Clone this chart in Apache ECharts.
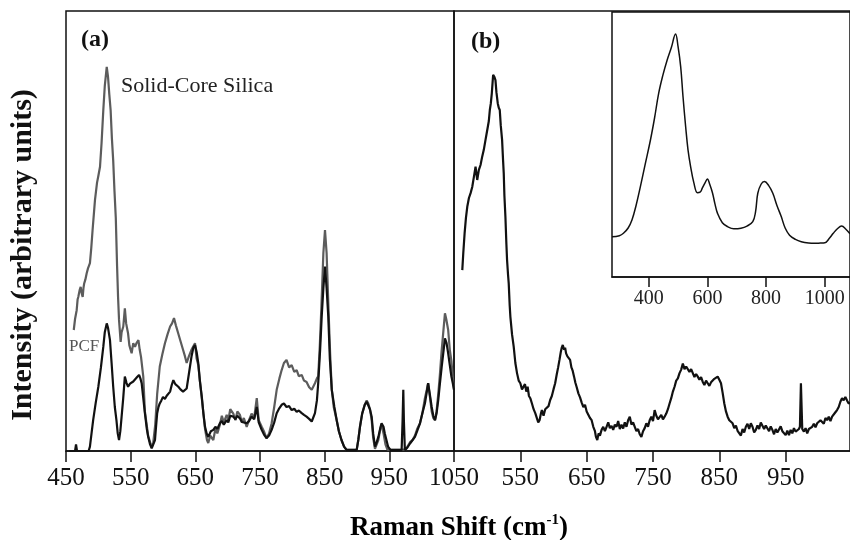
<!DOCTYPE html>
<html lang="en">
  <head>
    <meta charset="UTF-8" />
    <script src="https://cdn.jsdelivr.net/npm/echarts@6.0.0/dist/echarts.min.js"></script>
    <title>Raman spectra</title>
    <style>
      html, body { margin: 0; padding: 0; background: #fff; }
      #container { width: 850px; height: 540px; }
    </style>
  </head>
  <body>
    <div id="container"></div>

    <script>
      const chart = echarts.init(document.getElementById("container"));

      // panel (a): Raman shift (cm-1) vs intensity (arb. units 0-100)
      const solidCoreA = [
        [462,27.5],[464,30],[466.5,32],[468,34.5],[469,35],[471,36.5],[472.7,37.3],[474,36],[475.8,35],[477,37],
        [478,38],[480,39],[482,40.4],[484,41.5],[487,42.7],[489,46],[491,50],[494.8,57],[498,61],[500,62.5],
        [502.6,64.6],[505,70],[507.7,77.5],[510,83],[513,87.3],[515,85],[517,81],[519,77.5],[521,71],[523,66],
        [525,59],[527,53],[529,42],[530.5,35],[532,29.8],[534.5,24.8],[536,27],[538.6,28.3],[541,32.4],[543,29],
        [546,26.7],[548,24],[551.5,22.2],[554,24.5],[556.7,23.7],[559,24.5],[562,25.2],[564,23],[566,21.4],[569.5,16.9],
        [572,9],[577,3.5],[582.5,0.8],[585,2],[588,6],[591,13],[595,19.2],[599,22],[603,24.5],[607,26.5],
        [611,28.3],[614,29],[617,30.2],[620,28.5],[623.6,26.7],[627,25],[631,23],[634,21.5],[636.6,20],[640,21.5],
        [644,23],[649.5,24.5],[652,21],[654.6,19.5],[657,16],[660,12],[665,5],[668,2.5],[670,1.8],[673,3.5],
        [677.8,2.5],[681,5],[684,4],[688,6],[691,8],[694,6.5],[698.5,8.2],[701,7],[704,9.5],[708.7,8.5],
        [712,7],[715,9],[719,8.2],[722,6.5],[725,7.5],[729.4,5.5],[733,7],[737,8.5],[741,7.5],[745,12],
        [748,7],[752.6,5.5],[756,4.5],[760,2.9],[764,4],[768,6.3],[772,10],[775.8,13.9],[780,16.5],[783.5,18.4],
        [787,20],[791,20.7],[795,19],[799,19.5],[803,18],[806.7,18.4],[810,17],[814.5,17.3],[818,16],[822,15.7],
        [826,14.5],[830,13.9],[835,15.4],[838,16.5],[840,17],[842.5,24],[845,33],[848,45],[850.5,50.2],[853,45],
        [856,32],[858.5,22],[861,14],[864,10],[868.6,7],[872,4.5],[876,2.5],[880,1],[884,0.3],[899.5,0.3],
        [902,2.5],[904.6,5.5],[908,8.5],[912,10.5],[915,11.5],[917.5,10.8],[920,9.5],[922.7,7],[925,3],[927.8,0.5],
        [930,0.3],[933,2.5],[936,5],[938,6],[941,4],[944,1.5],[947,0.3],[956,0.3],[975,0.3],[978,1],
        [982,2],[986,2.5],[989.6,3.5],[993,5],[997.4,6.3],[1001,8.5],[1005,12],[1008,14],[1010,15.4],[1013,12],
        [1015.5,9],[1018,7.5],[1020.6,7],[1023,9],[1025.7,13],[1028,17],[1031,23],[1034,28],[1036,31.3],[1038,30],
        [1041,27.5],[1043.5,23],[1046,20.5],[1048,17],[1050,14]
      ];

      const pcfA = [
        [455,0],[464,0],[465.5,1.5],[467,0],[485,0],[487,1],[489.5,4],[492,7],[496,11],[500,14.6],
        [504,19],[507.7,23.7],[510,27],[513,29],[515,28],[518,25.2],[520.5,20],[523,14.6],[525.5,10],[528,7],
        [530,4],[532,2.5],[534,4.5],[536,7.8],[538.5,12],[541,16.9],[543.5,15.5],[546,14.6],[549,15.3],[551.6,15],
        [554,15.8],[556.7,16.1],[560,16.8],[563,17.3],[565,16.5],[567,15.4],[569.5,12],[572,8.6],[575,5],[577,3.3],
        [580,1.5],[582.5,0.6],[585,1],[587.6,2.5],[589.5,6],[591,8.6],[593,10],[595,10.8],[597.5,11.5],[600,12.3],
        [603,11.8],[605.5,12.5],[608,12.3],[611,13.5],[613.5,15],[616,16.1],[619,15.2],[621,14.8],[623.7,14.6],[627,14],
        [631,13.5],[634,13.8],[636.6,14.2],[640,17.5],[644,21.4],[647,23.5],[649.5,24.1],[652,22.5],[654.6,19.9],[657,16],
        [660,12.3],[662.5,8.5],[665,5.5],[667.5,4],[670,3.2],[674,4.5],[677.8,4.8],[681,5.5],[684,5],[688,6.3],
        [691,6.8],[694,6],[698.5,7],[701,6.5],[704,8],[708.7,7.8],[712,7.2],[715,8],[719,7.4],[722,6.6],
        [725,7],[729.4,6.3],[733,6.8],[737,7.8],[741,7.2],[745,10],[748,6.5],[752.6,4.8],[756,3.8],[760,2.9],
        [764,3.5],[768,4.8],[772,6.5],[775.8,8.6],[779,9.5],[783.5,10.5],[787,10.8],[791,10],[795,10.2],[799,9.3],
        [803,9.6],[806.7,8.9],[810,9.2],[814.5,8.6],[818,8.2],[822,7.8],[826,7.3],[830,6.7],[835,8.6],[838,11.5],
        [840,15.4],[843,23],[845.4,30.5],[848,37],[850.5,41.9],[853,37],[855.6,30.5],[858,21],[861,13.9],[865,10],
        [868.6,7],[872,4.5],[876,2.5],[880,1],[884,0.2],[899.5,0.2],[902,2.5],[904.6,5.5],[908,8.5],[912,10.5],
        [915,11.2],[917.5,10.8],[920,9.5],[922.7,7.8],[925,4],[927.8,1],[930,1.8],[933,3.2],[936,5.2],[938,6.3],
        [941,5.5],[943,4],[945.5,2.5],[948,1],[952,0.2],[969,0.2],[970.5,7],[971.6,13.9],[972.5,7],[974,0.2],
        [978,0.8],[982,1.7],[986,2.5],[989.6,3.2],[993,4.5],[997.4,6.3],[1001,8.5],[1005,10.8],[1008,13.5],[1010,15.4],
        [1013,12.5],[1015.5,10],[1018,8],[1020.6,7],[1023,8.5],[1025.7,11.6],[1028,15],[1031,19.2],[1034,23],[1036,25.6],
        [1038.5,24.5],[1041,22.2],[1043.5,19.5],[1046,16.9],[1048,15.5],[1050,13.9]
      ];

      // panel (b)
      const spectrumB = [
        [462.5,41.1],[464,45],[466,49.5],[468,53],[470,55.5],[472.5,57.5],[475,58.6],[477.5,60],[480,62.3],[482.5,64.6],
        [485,61.6],[487.5,63.9],[490,65],[492.5,66.9],[495,68.5],[497.5,70.7],[499,72],[501,73.7],[502.5,75],[504,77.5],
        [505.5,79],[507,81.3],[509,85.5],[511,85],[512.5,84.3],[514,81.5],[516,79],[517.5,78],[519,77.5],[520.5,74],
        [522.5,70.7],[524,66],[525,63.1],[526,58],[527.5,53.3],[529,47],[530,43.4],[531.5,40],[532.5,38.1],[534,33],
        [535,30.5],[537.5,26.5],[540,23.7],[542.5,20],[545,17.7],[547.5,16],[550,15.4],[552.5,14],[555,13.9],[557,15.2],
        [559,13.5],[561,14.6],[563,12.5],[565,12],[567.5,10.8],[570,9.5],[572.5,8.6],[575,8.8],[577,6.5],[579,7],
        [581,8.5],[582.5,9.3],[585,8],[587.5,9.5],[590,9.3],[592.5,10.2],[595,11.6],[597.5,12.5],[600,14],[602.5,15.4],
        [605,17.5],[607,19],[609,20.7],[611,22.5],[612.5,23.5],[614,24.1],[616,23],[617.5,23.5],[619,22.2],[621,21.5],
        [623,21.8],[625,20.7],[627,19],[629,18.2],[631,16.9],[633,15.5],[635,14.5],[637.5,13.1],[640,12.2],[642.5,11],
        [645,10],[647.5,10.5],[650,9],[652.5,8.6],[655,7.5],[657.5,7],[660,5.5],[662.5,4.5],[664,3.2],[666,2.5],
        [668,4],[670,3.5],[672.5,4.8],[675,5.5],[677.5,4.5],[680,5.5],[682.5,6.5],[685,5.2],[687.5,5.7],[690,4.8],
        [692.5,6],[695,5.5],[697.5,6.8],[700,5],[702.5,6],[705,5.1],[707.5,6.5],[710,5.5],[712.5,7],[715,7.8],
        [717.5,6],[720,6.5],[722.5,5.5],[725,4.5],[727.5,5],[730,3.8],[732.5,3.2],[735,4.5],[737.5,5.2],[740,6.3],
        [742.5,5.5],[745,7],[747.5,7.8],[750,6.8],[752.5,9.3],[755,8],[757.5,7.2],[760,7],[762.5,8.2],[765,7.2],
        [767.5,7.8],[770,8.5],[772.5,9.5],[775,10.8],[777.5,12],[780,13.5],[782.5,14.6],[785,16],[787.5,16.5],[790,17.7],
        [792.5,18.5],[795,19.9],[797.5,18.6],[800,19.2],[802.5,18.8],[805,18],[807.5,18.6],[810,17.7],[812.5,16.8],[815,17.5],
        [817.5,16.9],[820,16.2],[822.5,16.8],[825,15.7],[827.5,15],[830,16],[832.5,15.4],[835,14.8],[837.5,15.6],[840,15.7],
        [842.5,16.4],[845,16],[847.5,16.9],[850,16.2],[852.5,15.4],[855,13.2],[857.5,10.8],[860,9],[862.5,7.8],[865,7],
        [867.5,6.8],[870,6.3],[872.5,5.2],[875,5.8],[877.5,4.6],[880,4.8],[882.5,3.5],[885,5],[887.5,4.2],[890,5.5],
        [892.5,6.2],[895,5],[897.5,6.3],[900,5.5],[902.5,4.2],[905,4.8],[907.5,5.8],[910,5],[912.5,6.5],[915,6.3],
        [917.5,5],[920,5.8],[922.5,5.5],[925,4.5],[927.5,5.6],[930,4.8],[932.5,3.8],[935,5],[937.5,4.2],[940,4.4],
        [942.5,5.6],[945,4.5],[947.5,4.8],[950,3.6],[952.5,4.6],[955,3.6],[957.5,4.8],[960,4],[962.5,5.2],[965,4.4],
        [967.5,4.2],[970,5],[971.5,5.5],[973,15.4],[974,15],[975,5],[977.5,4.4],[980,5.2],[982.5,4],[985,5],
        [987.5,4.6],[990,5.5],[992.5,6.2],[995,5.4],[997.5,6.3],[1000,6],[1002.5,7],[1005,6.7],[1007.5,6.2],[1010,7.5],
        [1012.5,7],[1015,7.8],[1017.5,6.8],[1020,7.8],[1022.5,8.2],[1025,8.8],[1027.5,9.3],[1030,10],[1032.5,11.2],[1035,12],
        [1037.5,11.5],[1040,12.3],[1042.5,11.5],[1045,10.8],[1048,11]
      ];

      // inset of panel (b), wide range
      const insetSpectrum = [
        [275,15.2],[300,15.6],[314,16.5],[330,18.5],[343,21.5],[357,27],[371.5,34],[388,42.5],[406,51.7],[420,60],
        [434,69.3],[448,76],[463,81.9],[477,86.5],[491.6,91.7],[500,87],[509,79.4],[517,68],[526,56.7],[534,48],
        [543,41.6],[554,35.5],[566,31.8],[575,32],[583,33.6],[592,35.5],[600,37],[608,35],[617.5,31.7],[626,27.5],
        [634.6,24],[651,20.5],[669,19],[690,18.2],[714.5,18.4],[735,19.2],[754.7,20.9],[764,24.5],[771.8,31.6],[783,35],
        [794.5,36],[809,34.5],[823,31.6],[837,27],[851.7,22.8],[865,18.5],[880,15.8],[900,14.2],[920,13.3],[945,12.8],
        [966,12.7],[985,12.8],[1000,12.9],[1015,14.5],[1029,16.5],[1043,18.2],[1057.5,19.2],[1072,18],[1086,16.3]
      ];

      const ticksB = [550, 650, 750, 850, 950];
      const ticksInset = [400, 600, 800, 1000];

      const serif = "'Liberation Serif', 'DejaVu Serif', serif";
      const ink = "#111";

      function xAxisBase(grid, min, max) {
        return {
          type: "value",
          gridIndex: grid,
          min: min,
          max: max,
          splitLine: { show: false },
          axisLine: { show: true, lineStyle: { color: ink, width: 1.5 } },
          axisTick: { show: true, inside: false, length: 11, lineStyle: { color: ink, width: 1.5 } },
          axisLabel: {
            fontFamily: serif,
            fontSize: 25,
            color: ink,
            margin: 15,
            formatter: (v) => String(v), // no thousands separator
          },
        };
      }

      const xa = xAxisBase(0, 450, 1050);
      xa.interval = 100;

      const xb = xAxisBase(1, 450, 1047);
      xb.axisTick.customValues = ticksB;
      xb.axisLabel.customValues = ticksB;

      const xi = xAxisBase(2, 275, 1086);
      xi.axisTick.customValues = ticksInset;
      xi.axisTick.length = 10;
      xi.axisLabel.customValues = ticksInset;
      xi.axisLabel.fontSize = 20;
      xi.axisLabel.color = "#222";
      xi.axisLabel.margin = 12;

      const yHidden = (g) => ({ type: "value", gridIndex: g, min: 0, max: 100, show: false });

      const option = {
        backgroundColor: "#fff",
        animation: false,
        grid: [
          { left: 66, top: 11, width: 388, height: 440, show: true, borderColor: ink, borderWidth: 1.5 },
          { left: 454, top: 11, width: 398, height: 440, show: true, borderColor: ink, borderWidth: 1.5 },
          { left: 612, top: 12, width: 240, height: 265, show: true, borderColor: ink, borderWidth: 1.5, backgroundColor: "#fff" },
        ],
        xAxis: [xa, xb, xi],
        yAxis: [yHidden(0), yHidden(1), yHidden(2)],
        series: [
          {
            name: "Solid-Core Silica",
            type: "line",
            xAxisIndex: 0,
            yAxisIndex: 0,
            data: solidCoreA,
            showSymbol: false,
            lineStyle: { color: "#5c5c5c", width: 2.2 },
          },
          {
            name: "PCF",
            type: "line",
            xAxisIndex: 0,
            yAxisIndex: 0,
            data: pcfA,
            showSymbol: false,
            lineStyle: { color: ink, width: 2.2 },
          },
          {
            name: "b",
            type: "line",
            xAxisIndex: 1,
            yAxisIndex: 1,
            data: spectrumB,
            showSymbol: false,
            lineStyle: { color: ink, width: 2.2 },
          },
          {
            name: "inset",
            type: "line",
            xAxisIndex: 2,
            yAxisIndex: 2,
            data: insetSpectrum,
            showSymbol: false,
            smooth: 0.4,
            lineStyle: { color: ink, width: 1.5 },
            z: 5,
          },
        ],
        graphic: [
          { type: "text", left: 81, top: 28, style: { text: "(a)", font: "bold 24px " + serif, fill: ink } },
          { type: "text", left: 471, top: 30, style: { text: "(b)", font: "bold 24px " + serif, fill: ink } },
          { type: "text", left: 121, top: 75, style: { text: "Solid-Core Silica", font: "22px " + serif, fill: "#222" } },
          { type: "text", left: 69, top: 338, style: { text: "PCF", font: "17px " + serif, fill: "#555" } },
          {
            type: "text",
            x: 23,
            y: 255,
            rotation: Math.PI / 2,
            style: {
              text: "Intensity (arbitrary units)",
              font: "bold 30px " + serif,
              fill: ink,
              align: "center",
              verticalAlign: "middle",
            },
          },
          {
            type: "text",
            x: 459,
            y: 528,
            style: {
              text: "{t|Raman Shift (cm}{s|-1}{t|)}",
              align: "center",
              verticalAlign: "middle",
              rich: {
                t: { fontFamily: serif, fontWeight: "bold", fontSize: 27, color: ink, lineHeight: 30 },
                s: { fontFamily: serif, fontWeight: "bold", fontSize: 15, color: ink, verticalAlign: "top", lineHeight: 30 },
              },
            },
          },
        ],
      };

      chart.setOption(option);
    </script>
  </body>
</html>
